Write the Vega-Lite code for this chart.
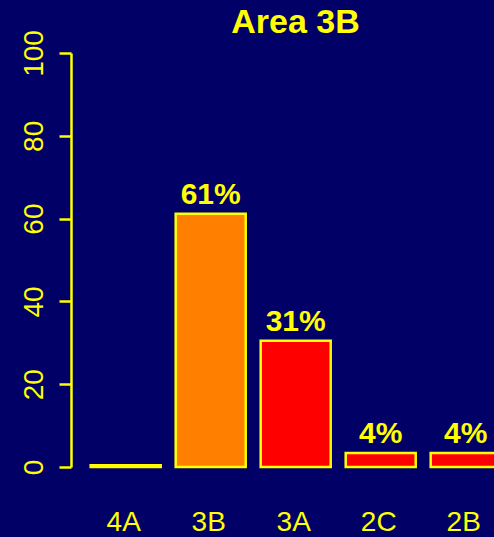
{
  "$schema": "https://vega.github.io/schema/vega-lite/v6.json",
  "width": 423,
  "height": 414,
  "autosize": {"type": "none"},
  "padding": {"left": 71, "top": 53, "right": 0, "bottom": 70},
  "background": "#000066",
  "title": {
    "text": "Area 3B",
    "font": "Liberation Sans",
    "fontSize": 34,
    "fontWeight": "bold",
    "color": "#FFFF00",
    "anchor": "middle",
    "baseline": "alphabetic",
    "offset": 0,
    "dx": 13,
    "dy": 37
  },
  "data": {
    "values": [
      {"area": "4A", "pct": 0.4, "label": ""},
      {"area": "3B", "pct": 61.2, "label": "61%"},
      {"area": "3A", "pct": 30.5, "label": "31%"},
      {"area": "2C", "pct": 3.4, "label": "4%"},
      {"area": "2B", "pct": 3.4, "label": "4%"}
    ]
  },
  "encoding": {
    "x": {
      "field": "area",
      "type": "nominal",
      "sort": null,
      "title": null,
      "scale": {"range": [19.7, 429.7], "paddingInner": 0.1765, "paddingOuter": 0, "round": false},
      "axis": {
        "domain": false,
        "ticks": false,
        "tickSize": 0,
        "labelAngle": 0,
        "labelFont": "Liberation Sans",
        "labelFontSize": 28,
        "labelColor": "#FFFF00",
        "labelBaseline": "alphabetic",
        "labelPadding": 63,
        "labelOffset": -2,
        "grid": false
      }
    },
    "y": {
      "field": "pct",
      "type": "quantitative",
      "title": null,
      "scale": {"domain": [0, 100], "nice": false, "zero": true},
      "axis": {
        "values": [0, 20, 40, 60, 80, 100],
        "grid": false,
        "domainColor": "#FFFF00",
        "domainWidth": 2.5,
        "tickColor": "#FFFF00",
        "tickWidth": 2.5,
        "tickSize": 12,
        "labelAngle": -90,
        "labelAlign": "center",
        "labelBaseline": "alphabetic",
        "labelPadding": 17,
        "labelFont": "Liberation Sans",
        "labelFontSize": 28,
        "labelColor": "#FFFF00",
        "labelFlush": false,
        "labelOverlap": false,
        "labelBound": false
      }
    }
  },
  "layer": [
    {
      "mark": {"type": "bar", "stroke": "#FFFF00", "strokeWidth": 2.5, "cornerRadius": 0},
      "encoding": {
        "color": {
          "field": "area",
          "type": "nominal",
          "legend": null,
          "scale": {"domain": ["4A", "3B", "3A", "2C", "2B"], "range": ["#FFFF00", "#FF8000", "#FF0000", "#FF0000", "#FF0000"]}
        }
      }
    },
    {
      "mark": {
        "type": "text",
        "font": "Liberation Sans",
        "fontSize": 30,
        "fontWeight": "bold",
        "color": "#FFFF00",
        "baseline": "alphabetic",
        "align": "center",
        "dy": -10
      },
      "encoding": {"text": {"field": "label"}}
    }
  ],
  "config": {"view": {"stroke": null}}
}
